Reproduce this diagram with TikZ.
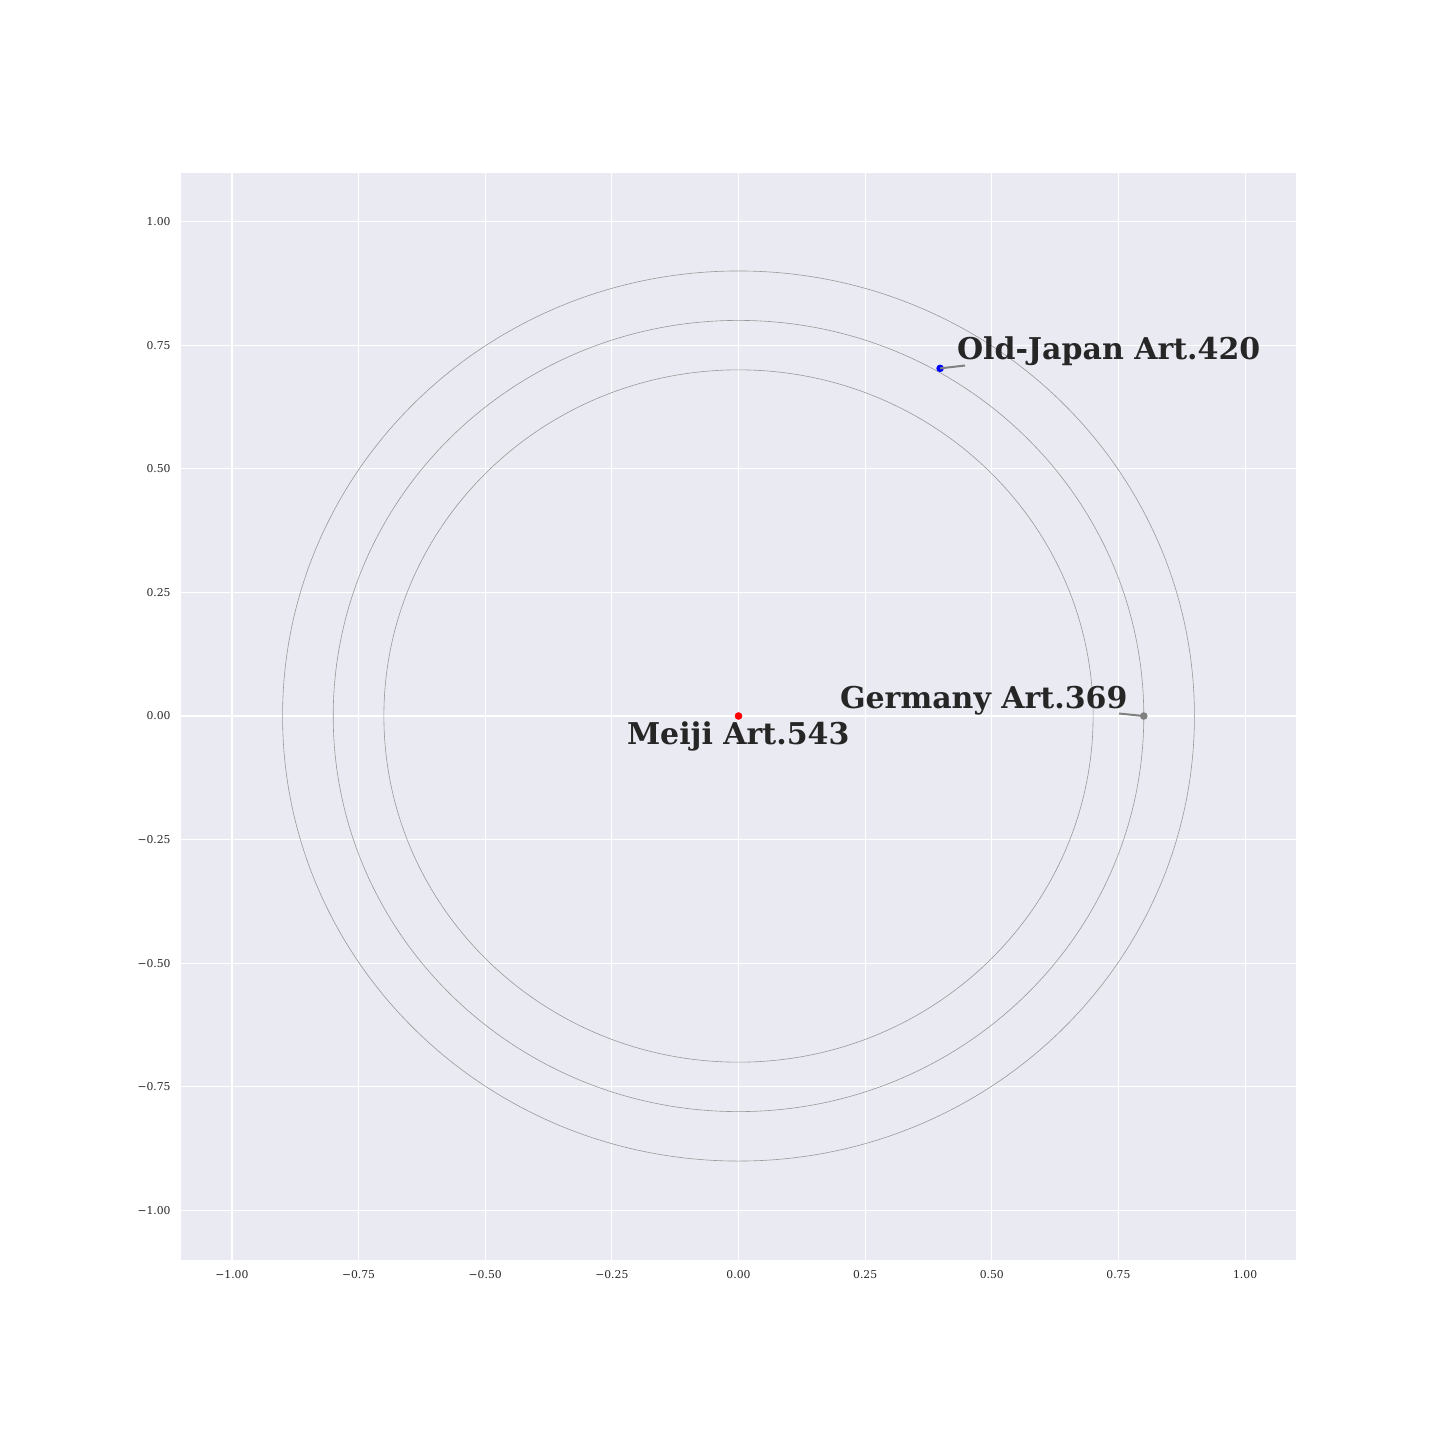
\documentclass[tikz,border=0pt]{standalone}
\usepackage{fontspec}
\setmainfont{DejaVu Serif}
\definecolor{axbg}{HTML}{EAEAF2}
\definecolor{txt}{HTML}{262626}
\tikzset{
  gridline/.style={draw=white, line width=0.6pt},
  ring/.style={draw=gray!80, line width=0.3pt},
  ticklab/.style={text=txt, font=\fontsize{5.4}{6.5}\selectfont, inner sep=0pt},
  biglab/.style={text=txt, font=\fontsize{15}{18}\selectfont\bfseries, inner sep=0pt, outer sep=0pt, anchor=base west},
  leader/.style={draw=gray, line width=1pt},
  dot/.style={circle, inner sep=0pt, minimum size=3.8pt},
}
\begin{document}
\begin{tikzpicture}[x=0.5pt,y=-0.5pt]
\useasboundingbox (0,0) rectangle (1440,1440);
\fill[axbg] (181,173) rectangle (1296,1260);
% grid and tick labels
\foreach \v/\l in {-1/{−1.00},-0.75/{−0.75},-0.5/{−0.50},-0.25/{−0.25},0/{0.00},0.25/{0.25},0.5/{0.50},0.75/{0.75},1/{1.00}}{
  \pgfmathsetmacro{\px}{738.5+506.6*\v}
  \pgfmathsetmacro{\py}{716-494.5*\v}
  \draw[gridline] (\px,173) -- (\px,1260);
  \draw[gridline] (181,\py) -- (1296,\py);
  \node[ticklab, anchor=north] (xt\v) at (\px,1270) {\l};
  \node[ticklab, anchor=east] (yt\v) at (171,\py) {\l};
}
\begin{scope}[shift={(738.5,716)}, x=253.3pt, y=247.25pt]
  \draw[ring] (0,0) ellipse [x radius=0.7, y radius=0.7];
  \draw[ring] (0,0) ellipse [x radius=0.8, y radius=0.8];
  \draw[ring] (0,0) ellipse [x radius=0.9, y radius=0.9];
  \node[dot, fill=red] (meiji) at (0,0) {};
  \node[dot, fill=blue] (japan) at (0.398,0.703) {};
  \node[dot, fill=gray] (germany) at (0.8,0) {};
\end{scope}
\coordinate (jend) at (965,365.5);
\coordinate (gend) at (1119,713.5);
\draw[leader] (japan.center) -- (jend);
\draw[leader] (germany.center) -- (gend);
\node[biglab] (japanlab) at (957,359) {Old-Japan Art.420};
\node[biglab] (germanylab) at (840,708) {Germany Art.369};
\node[biglab] (meijilab) at (627,744) {Meiji Art.543};
\end{tikzpicture}
\end{document}
